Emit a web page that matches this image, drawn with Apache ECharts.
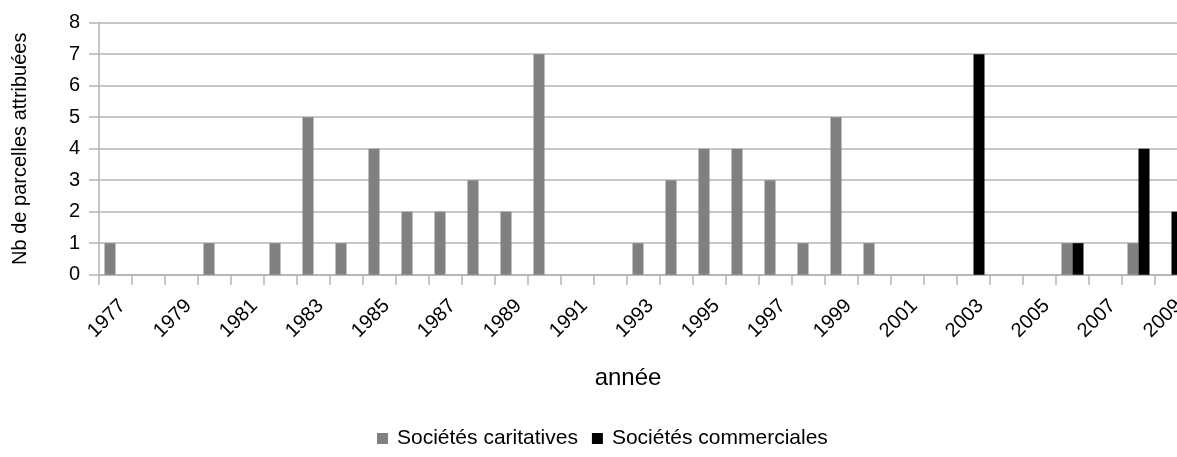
<!DOCTYPE html>
<html>
<head>
<meta charset="utf-8">
<script src="https://cdn.jsdelivr.net/npm/echarts@6/dist/echarts.min.js"></script>
<style>
html,body{margin:0;padding:0;background:#fff;}
#chart{width:1177px;height:457px;}
</style>
</head>
<body>
<div id="chart"></div>
<script>
const years = ['1977','1978','1979','1980','1981','1982','1983','1984','1985','1986','1987','1988','1989','1990','1991','1992','1993','1994','1995','1996','1997','1998','1999','2000','2001','2002','2003','2004','2005','2006','2007','2008','2009'];
const caritatives = [1,0,0,1,0,1,5,1,4,2,2,3,2,7,0,0,1,3,4,4,3,1,5,1,0,0,0,0,0,1,0,1,0];
const commerciales = [0,0,0,0,0,0,0,0,0,0,0,0,0,0,0,0,0,0,0,0,0,0,0,0,0,0,7,0,0,1,0,4,2];
const seriesNames = ['Sociétés caritatives','Sociétés commerciales'];
const xTitle = 'année';
const yTitle = 'Nb de parcelles attribuées';

const FONT = 'Liberation Sans, Arial, sans-serif';
const GRID_C = '#b4b4b4';
const chart = echarts.init(document.getElementById('chart'), null, {renderer:'canvas'});
chart.setOption({
  animation:false,
  backgroundColor:'#fff',
  textStyle:{fontFamily:FONT},
  grid:{left:99, top:22.7, width:1089, height:252, containLabel:false, outerBoundsMode:'none'},
  legend:{
    left:372, top:423, itemWidth:11, itemHeight:11, itemGap:14,
    icon:'rect',
    textStyle:{fontSize:21, color:'#000', fontFamily:FONT, padding:[0,0,0,4]},
    data:seriesNames
  },
  xAxis:{
    type:'category', data:years, boundaryGap:true,
    name:xTitle, nameLocation:'middle', nameGap:92,
    nameTextStyle:{fontSize:24, color:'#000', fontFamily:FONT, padding:[0,31,0,0]},
    axisLine:{lineStyle:{color:GRID_C, width:1.5}},
    axisTick:{show:true, interval:0, length:10, lineStyle:{color:GRID_C, width:1.5}},
    axisLabel:{interval:1, rotate:45, fontSize:20, color:'#000', margin:21, verticalAlign:'top', fontFamily:FONT},
    splitLine:{show:false}
  },
  yAxis:{
    type:'value', min:0, max:8, interval:1,
    name:yTitle, nameLocation:'middle', nameGap:69, nameRotate:90,
    nameTextStyle:{fontSize:20, color:'#000', fontFamily:FONT},
    axisLine:{show:true, lineStyle:{color:GRID_C, width:1.5}},
    axisTick:{show:true, length:10, lineStyle:{color:GRID_C, width:1.5}},
    axisLabel:{fontSize:20, color:'#000', margin:19, fontFamily:FONT},
    splitLine:{lineStyle:{color:GRID_C, width:1.5}}
  },
  series:[
    {name:seriesNames[0], type:'bar', data:caritatives, barWidth:11, barGap:'0%', itemStyle:{color:'#808080'}},
    {name:seriesNames[1], type:'bar', data:commerciales, barWidth:11, barGap:'0%', itemStyle:{color:'#000000'}}
  ]
});
</script>
</body>
</html>
